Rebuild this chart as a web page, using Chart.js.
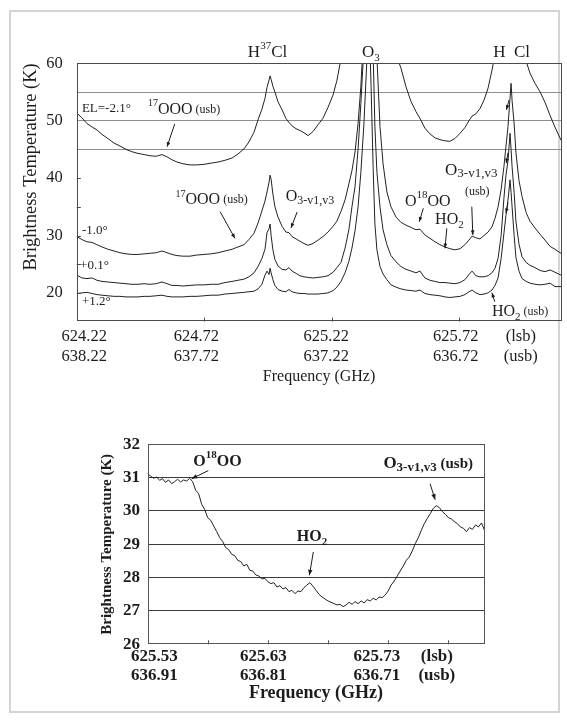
<!DOCTYPE html>
<html>
<head>
<meta charset="utf-8">
<script src="https://cdn.jsdelivr.net/npm/chart.js@4.4.1/dist/chart.umd.min.js"></script>
<style>
  html, body { margin: 0; padding: 0; background: #fff; }
  body { width: 567px; height: 721px; position: relative; overflow: hidden; }
  #frame { position: absolute; left: 9px; top: 10px; width: 551px; height: 703px; border: 2px solid #d4d4d4; box-sizing: border-box; }
  .wrap { position: absolute; left: 0; width: 567px; }
  #topWrap { top: 0; height: 400px; }
  #bottomWrap { top: 400px; height: 321px; }
</style>
</head>
<body>
<div id="frame"></div>
<div class="wrap" id="topWrap"><canvas id="spectraChart"></canvas></div>
<div class="wrap" id="bottomWrap"><canvas id="zoomChart"></canvas></div>
<script>
// ---- upper panel: four elevation scans (lsb frequency, GHz) ----
const freqTopGHz = [
  624.221, 624.240, 624.260, 624.280, 624.299, 624.319, 624.342, 624.366, 624.389, 624.413,
  624.436, 624.460, 624.484, 624.507, 624.531, 624.554, 624.574, 624.593, 624.613, 624.636,
  624.664, 624.691, 624.719, 624.746, 624.774, 624.801, 624.829, 624.852, 624.876, 624.895,
  624.915, 624.931, 624.946, 624.958, 624.966, 624.974, 624.978, 624.982, 624.989, 624.997,
  625.009, 625.025, 625.040, 625.052, 625.064, 625.080, 625.095, 625.111, 625.127, 625.146,
  625.166, 625.185, 625.205, 625.225, 625.240, 625.256, 625.272, 625.287, 625.299, 625.311,
  625.323, 625.334, 625.346, 625.358, 625.366, 625.374, 625.382, 625.389, 625.397, 625.409,
  625.421, 625.436, 625.452, 625.472, 625.491, 625.511, 625.531, 625.550, 625.566, 625.585,
  625.605, 625.625, 625.644, 625.664, 625.683, 625.703, 625.723, 625.742, 625.758, 625.770,
  625.785, 625.801, 625.817, 625.833, 625.848, 625.860, 625.872, 625.884, 625.895, 625.903,
  625.911, 625.919, 625.923, 625.927, 625.935, 625.942, 625.954, 625.966, 625.982, 625.997,
  626.017, 626.037, 626.056, 626.076, 626.095, 626.119
];

const tempElM21 = [
  51.3, 50.5, 49.5, 48.9, 48.4, 47.6, 46.9, 46.1, 45.6, 45.0,
  44.6, 44.3, 44.1, 43.9, 43.8, 44.1, 43.7, 43.2, 42.8, 42.5,
  42.3, 42.3, 42.4, 42.6, 42.8, 43.1, 43.5, 44.2, 45.1, 46.3,
  48.0, 50.2, 52.0, 53.9, 55.8, 57.1, 57.8, 57.2, 56.0, 55.0,
  53.3, 51.9, 50.4, 49.7, 49.1, 48.6, 48.3, 47.9, 47.4, 48.1,
  49.3, 50.4, 52.3, 54.5, 57.0, 60.8, 64, 68, 72, 77,
  83, 90, 97, 100, 100, 100, 100, 98, 95, 88,
  80, 72, 66, 61.5, 59.2, 55.9, 53.3, 51.6, 50.4, 48.7,
  47.7, 47.0, 46.7, 46.5, 46.4, 46.9, 47.8, 48.8, 50.0, 50.8,
  51.2, 52.1, 53.6, 55.7, 58.8, 61.5, 65, 70, 76, 82,
  88, 92, 93, 92, 89, 84, 76, 68, 60.4, 58.3,
  56.5, 55.0, 53.2, 50.9, 48.9, 46.6
];

const tempElM10 = [
  29.8, 29.3, 28.9, 28.8, 28.4, 28.0, 27.6, 27.3, 27.0, 26.8,
  26.7, 26.7, 26.8, 26.9, 27.0, 27.3, 27.0, 26.7, 26.5, 26.4,
  26.4, 26.6, 26.7, 26.8, 27.0, 27.3, 27.6, 28.0, 28.4, 29.3,
  30.4, 32.2, 34.3, 36.0, 37.6, 39.3, 40.5, 39.8, 37.2, 35.0,
  33.2, 31.6, 30.6, 30.5, 29.8, 29.4, 29.0, 28.6, 28.3, 28.6,
  29.2, 29.8, 30.6, 31.6, 32.5, 34.2, 36.2, 39.0, 41.3, 44.5,
  49.5, 56.0, 66, 74, 80, 85, 84, 70, 61, 49.0,
  42.5, 37.6, 35.0, 33.2, 32.3, 31.8, 31.4, 31.0, 31.1, 30.1,
  29.5, 28.9, 28.4, 28.0, 27.7, 27.5, 27.7, 28.4, 29.2, 29.9,
  29.6, 29.4, 30.0, 30.6, 31.5, 33.0, 35.0, 38.0, 42.0, 45.5,
  49.0, 54.0, 56.5, 53.5, 49.5, 44.5, 39.6, 36.8, 34.0, 32.5,
  31.3, 30.2, 29.2, 28.1, 27.6, 26.9
];

const tempElP01 = [
  23.1, 22.6, 22.5, 22.6, 22.2, 22.0, 21.9, 21.8, 21.7, 21.6,
  21.5, 21.5, 21.6, 21.5, 21.6, 21.9, 21.6, 21.3, 21.3, 21.2,
  21.3, 21.4, 21.4, 21.5, 21.5, 21.8, 22.0, 22.2, 22.4, 22.8,
  23.5, 24.6, 26.0, 27.6, 30.5, 31.2, 32.0, 30.0, 27.5, 25.8,
  24.7, 24.1, 24.0, 24.4, 23.8, 23.4, 23.0, 22.8, 22.7, 22.6,
  22.7, 22.8, 23.0, 23.6, 24.4, 25.3, 27.8, 31.0, 35.0, 38.5,
  45.0, 53.0, 63, 72, 78, 75, 62, 49, 41, 35.0,
  31.0, 28.4, 26.5, 25.4, 24.6, 24.1, 23.8, 23.5, 23.8, 22.6,
  22.2, 22.0, 21.8, 21.8, 21.7, 21.6, 21.8, 22.3, 23.2, 23.8,
  23.0, 22.8, 22.8, 23.0, 23.5, 24.3, 26.0, 30.0, 36.5, 40.5,
  43.0, 47.8, 45.0, 42.0, 37.5, 32.5, 28.5, 26.3, 25.3, 24.8,
  24.4, 23.9, 23.7, 24.0, 23.6, 23.1
];

const tempElP12 = [
  19.9, 20.0, 20.1, 19.9, 19.7, 19.6, 19.5, 19.4, 19.4, 19.3,
  19.3, 19.3, 19.4, 19.4, 19.5, 19.6, 19.4, 19.3, 19.3, 19.3,
  19.4, 19.4, 19.5, 19.6, 19.6, 19.8, 19.9, 20.0, 20.1, 20.2,
  20.3, 20.7, 21.5, 23.1, 23.8, 23.2, 24.3, 23.5, 22.3, 21.3,
  20.6, 20.3, 20.2, 20.6, 20.2, 20.0, 19.9, 19.9, 19.8, 19.8,
  19.8, 19.9, 20.0, 20.4, 21.0, 22.0, 23.5, 25.5, 27.8, 30.8,
  35.0, 41.0, 49.5, 61, 68, 56, 42, 32, 27.5, 24.6,
  23.3, 22.3, 21.4, 21.0, 20.7, 20.5, 20.4, 20.3, 20.5, 19.9,
  19.7, 19.6, 19.5, 19.3, 19.2, 19.3, 19.4, 19.7, 20.2, 20.5,
  20.0, 19.7, 19.8, 20.0, 20.5, 21.3, 22.6, 26.0, 30.4, 33.5,
  36.2, 39.7, 37.5, 35.0, 30.0, 26.2, 23.8, 22.5, 22.0, 21.7,
  21.5, 21.4, 21.5, 21.7, 21.1, 21.1
];

const topLabelPosGHz = [624.249, 624.689, 625.198, 625.706, 625.961];
const topLsbLabels = ['624.22', '624.72', '625.22', '625.72', '(lsb)'];
const topUsbLabels = ['638.22', '637.72', '637.22', '636.72', '(usb)'];
const topXMarksGHz = [624.72, 625.22, 625.72];
const topYTicks = [15, 20, 25, 30, 35, 40, 45, 50, 55, 60];
const topGridK = [45, 50, 55];

// ---- lower panel: zoom on the -1.0 deg scan ----
const zoomStartGHz = 625.53;
const zoomStepGHz = 0.0025;
const tempZoomK = [
  31.12, 31.05, 30.98, 31.02, 30.92, 30.97, 30.86, 30.93, 30.82, 30.88,
  30.95, 30.87, 30.93, 30.90, 30.98, 30.88, 30.62, 30.52, 30.20, 30.05,
  29.80, 29.72, 29.55, 29.38, 29.20, 29.08, 28.90, 28.84, 28.70, 28.66,
  28.52, 28.48, 28.35, 28.40, 28.22, 28.20, 28.08, 28.05, 27.96, 27.98,
  27.88, 27.82, 27.85, 27.72, 27.76, 27.66, 27.70, 27.58, 27.62, 27.52,
  27.60, 27.58, 27.70, 27.78, 27.85, 27.74, 27.62, 27.50, 27.42, 27.36,
  27.30, 27.26, 27.22, 27.18, 27.20, 27.13, 27.18, 27.26, 27.20, 27.28,
  27.22, 27.30, 27.24, 27.34, 27.30, 27.38, 27.33, 27.42, 27.40, 27.48,
  27.60, 27.78, 27.90, 28.05, 28.20, 28.35, 28.52, 28.62, 28.80, 29.02,
  29.20, 29.42, 29.62, 29.78, 29.92, 30.08, 30.16, 30.10, 29.98, 29.90,
  29.80, 29.76, 29.68, 29.62, 29.52, 29.48, 29.38, 29.50, 29.45, 29.58,
  29.52, 29.64, 29.42
];

const zoomLabelPosGHz = [625.5357, 625.6263, 625.7205, 625.7704];
const zoomLsbLabels = ['625.53', '625.63', '625.73', '(lsb)'];
const zoomUsbLabels = ['636.91', '636.81', '636.71', '(usb)'];
const zoomXMarksGHz = [625.58, 625.63, 625.68, 625.73, 625.78];
const zoomYTicks = [26, 27, 28, 29, 30, 31, 32];
const zoomGridK = [27, 28, 29, 30, 31];

// annotations: [freq, K, align, parts[[text, px, rise]]]
const topNotes = [
  [624.968, 61.8, 'center', [['H', 17, 0], ['37', 11, 7], ['Cl', 17, 0]]],
  [625.373, 61.8, 'center', [['O', 17, 0], ['3', 11, -5]]],
  [625.925, 61.8, 'center', [['H  Cl', 17, 0]]],
  [624.240, 52.1, 'left', [['EL=-2.1°', 13, 0]]],
  [624.240, 30.8, 'left', [['-1.0°', 13, 0]]],
  [624.233, 24.7, 'left', [['+0.1°', 13, 0]]],
  [624.240, 18.5, 'left', [['+1.2°', 13, 0]]],
  [624.499, 51.9, 'left', [['17', 10, 6], ['OOO', 16, 0], [' (usb)', 12, 0]]],
  [624.607, 36.2, 'left', [['17', 10, 6], ['OOO', 16, 0], [' (usb)', 12, 0]]],
  [625.039, 36.7, 'left', [['O', 16, 0], ['3-v1,v3', 12, -4]]],
  [625.507, 35.9, 'left', [['O', 16, 0], ['18', 11, 7], ['OO', 16, 0]]],
  [625.625, 32.7, 'left', [['HO', 16, 0], ['2', 11, -5]]],
  [625.664, 41.4, 'left', [['O', 17, 0], ['3-v1,v3', 13, -4]]],
  [625.742, 37.6, 'left', [['(usb)', 12, 0]]],
  [625.848, 16.7, 'left', [['HO', 16, 0], ['2', 11, -5], [' (usb)', 12, 0]]]
];
const topArrows = [
  [624.604, 49.43, 624.574, 45.47],
  [624.782, 34.15, 624.840, 29.51],
  [625.084, 34.09, 625.060, 31.31],
  [625.579, 34.74, 625.563, 32.40],
  [625.671, 31.25, 625.664, 27.77],
  [625.769, 35.02, 625.773, 30.09],
  [625.859, 18.47, 625.848, 20.03],
  [625.915, 53.6, 625.905, 51.9],
  [625.911, 44.4, 625.904, 42.6],
  [625.911, 35.7, 625.903, 33.9]
];
const zoomNotes = [
  [625.5681, 31.46, 'left', [['O', 16, 0], ['18', 11, 7], ['OO', 16, 0]]],
  [625.654, 29.22, 'left', [['HO', 16, 0], ['2', 11, -5]]],
  [625.726, 31.41, 'left', [['O', 17, 0], ['3-v1,v3', 13, -4], [' (usb)', 15, 0]]]
];
const zoomArrows = [
  [625.5805, 31.21, 625.5667, 30.966],
  [625.6678, 28.77, 625.6645, 28.07],
  [625.7648, 30.816, 625.7690, 30.337]
];

const SERIF = '"Liberation Serif", "Times New Roman", serif';
const INK = '#1c1c1c';

// rich text: main text, super- and subscripts
function drawParts(ctx, x, y, align, parts, weight) {
  ctx.save();
  ctx.fillStyle = INK;
  ctx.textBaseline = 'middle';
  ctx.textAlign = 'left';
  let total = 0;
  parts.forEach(p => {
    ctx.font = weight + ' ' + p[1] + 'px ' + SERIF;
    total += ctx.measureText(p[0]).width;
  });
  let cx = align === 'center' ? x - total / 2 : x;
  parts.forEach(p => {
    ctx.font = weight + ' ' + p[1] + 'px ' + SERIF;
    ctx.fillText(p[0], cx, y - p[2]);
    cx += ctx.measureText(p[0]).width;
  });
  ctx.restore();
}

function drawArrow(ctx, x1, y1, x2, y2, head) {
  const a = Math.atan2(y2 - y1, x2 - x1);
  ctx.beginPath();
  ctx.moveTo(x1, y1);
  ctx.lineTo(x2, y2);
  ctx.stroke();
  ctx.beginPath();
  ctx.moveTo(x2, y2);
  ctx.lineTo(x2 - head * Math.cos(a - 0.38), y2 - head * Math.sin(a - 0.38));
  ctx.lineTo(x2 - head * Math.cos(a + 0.38), y2 - head * Math.sin(a + 0.38));
  ctx.closePath();
  ctx.fill();
}

// box around the plot, inward tick marks, labels and arrows
function makeDecor(cfg) {
  return {
    id: 'decor',
    afterDraw(chart) {
      const { ctx, chartArea: a, scales: { x, y } } = chart;
      ctx.save();
      ctx.strokeStyle = cfg.boxColor;
      ctx.lineWidth = 1;
      ctx.strokeRect(Math.round(a.left) + 0.5, Math.round(a.top) + 0.5,
        Math.round(a.width) - 1, Math.round(a.height) - 1);
      ctx.beginPath();
      cfg.xMarks.forEach(v => {
        const px = Math.round(x.getPixelForValue(v)) + 0.5;
        ctx.moveTo(px, a.bottom);
        ctx.lineTo(px, a.bottom - cfg.markLen);
      });
      cfg.yMarks.forEach(v => {
        const py = Math.round(y.getPixelForValue(v)) + 0.5;
        ctx.moveTo(a.left, py);
        ctx.lineTo(a.left + cfg.markLen, py);
      });
      ctx.stroke();

      cfg.notes.forEach(n => {
        drawParts(ctx, x.getPixelForValue(n[0]), y.getPixelForValue(n[1]), n[2], n[3], cfg.weight);
      });
      ctx.strokeStyle = INK;
      ctx.fillStyle = INK;
      ctx.lineWidth = 1;
      cfg.arrows.forEach(r => {
        drawArrow(ctx, x.getPixelForValue(r[0]), y.getPixelForValue(r[1]),
          x.getPixelForValue(r[2]), y.getPixelForValue(r[3]), cfg.head);
      });
      ctx.restore();
    }
  };
}

function lineSet(label, xs, ys) {
  return {
    label: label,
    data: xs.map((f, i) => ({ x: f, y: ys[i] })),
    borderColor: '#222',
    borderWidth: 1,
    pointRadius: 0,
    tension: 0,
    fill: false
  };
}

document.addEventListener('DOMContentLoaded', function() {
  initSpectraChart();
  initZoomChart();
});

function initSpectraChart() {
  const ctx = document.getElementById('spectraChart');
  new Chart(ctx, {
    type: 'line',
    data: {
      datasets: [
        lineSet('EL=-2.1°', freqTopGHz, tempElM21),
        lineSet('-1.0°', freqTopGHz, tempElM10),
        lineSet('+0.1°', freqTopGHz, tempElP01),
        lineSet('+1.2°', freqTopGHz, tempElP12)
      ]
    },
    options: {
      responsive: true,
      maintainAspectRatio: false,
      animation: false,
      layout: { padding: { left: 10, right: 5.7, top: 63.3, bottom: 10 } },
      plugins: { legend: { display: false }, tooltip: { enabled: false } },
      scales: {
        x: {
          type: 'linear',
          min: 624.22,
          max: 626.12,
          afterBuildTicks: axis => { axis.ticks = topLabelPosGHz.map(v => ({ value: v })); },
          afterFit: axis => { axis.height = 68.4; },
          grid: { display: false, drawTicks: false },
          border: { display: false },
          ticks: {
            autoSkip: false, maxRotation: 0, minRotation: 0, padding: 5.2, color: INK,
            font: { family: SERIF, size: 16.5, lineHeight: 1.2 },
            callback: (v, i) => [topLsbLabels[i], topUsbLabels[i]]
          },
          title: {
            display: true, text: 'Frequency (GHz)', color: INK,
            font: { family: SERIF, size: 16 }, padding: { top: 0, bottom: 3.4 }
          }
        },
        y: {
          min: 15,
          max: 60,
          afterBuildTicks: axis => { axis.ticks = topYTicks.map(v => ({ value: v })); },
          afterFit: axis => { axis.width = 66.8; },
          grid: {
            drawTicks: false,
            lineWidth: 1,
            color: c => (c.tick && topGridK.includes(c.tick.value)) ? '#8e8e8e' : 'rgba(0,0,0,0)'
          },
          border: { display: false },
          ticks: {
            padding: 14, color: INK,
            font: { family: SERIF, size: 16.5 },
            callback: v => (v % 10 === 0 && v >= 20) ? String(v) : ''
          },
          title: {
            display: true, text: 'Brightness Temperature (K)', color: INK, align: 'end',
            font: { family: SERIF, size: 18.5 }, padding: { top: 9.7, bottom: 0 }
          }
        }
      }
    },
    plugins: [makeDecor({
      boxColor: '#4a4a4a', xMarks: topXMarksGHz, yMarks: [20, 25, 30, 35, 40],
      markLen: 4, notes: topNotes, arrows: topArrows, weight: 'normal', head: 5
    })]
  });
}

function initZoomChart() {
  const ctx = document.getElementById('zoomChart');
  const zoomFreqGHz = tempZoomK.map((t, i) => +(zoomStartGHz + i * zoomStepGHz).toFixed(4));
  new Chart(ctx, {
    type: 'line',
    data: { datasets: [lineSet('-1.0°', zoomFreqGHz, tempZoomK)] },
    options: {
      responsive: true,
      maintainAspectRatio: false,
      animation: false,
      layout: { padding: { left: 90, right: 82.5, top: 44.3, bottom: 10 } },
      plugins: { legend: { display: false }, tooltip: { enabled: false } },
      scales: {
        x: {
          type: 'linear',
          min: 625.53,
          max: 625.81,
          afterBuildTicks: axis => { axis.ticks = zoomLabelPosGHz.map(v => ({ value: v })); },
          afterFit: axis => { axis.height = 66.7; },
          grid: { display: false, drawTicks: false },
          border: { display: false },
          ticks: {
            autoSkip: false, maxRotation: 0, minRotation: 0, padding: 3, color: INK,
            font: { family: SERIF, size: 17, weight: 'bold', lineHeight: 1.1 },
            callback: (v, i) => [zoomLsbLabels[i], zoomUsbLabels[i]]
          },
          title: {
            display: true, text: 'Frequency (GHz)', color: INK,
            font: { family: SERIF, size: 18, weight: 'bold' }, padding: { top: 0, bottom: 6.9 }
          }
        },
        y: {
          min: 26,
          max: 32,
          afterBuildTicks: axis => { axis.ticks = zoomYTicks.map(v => ({ value: v })); },
          afterFit: axis => { axis.width = 57.5; },
          grid: {
            drawTicks: false,
            lineWidth: 1,
            color: c => (c.tick && zoomGridK.includes(c.tick.value)) ? '#3a3a3a' : 'rgba(0,0,0,0)'
          },
          border: { display: false },
          ticks: {
            padding: 7.5, color: INK,
            font: { family: SERIF, size: 17, weight: 'bold' }
          },
          title: {
            display: true, text: 'Brightness Temperature (K)', color: INK,
            font: { family: SERIF, size: 15, weight: 'bold' }, padding: { top: 8.5, bottom: 0 }
          }
        }
      }
    },
    plugins: [makeDecor({
      boxColor: '#555', xMarks: zoomXMarksGHz, yMarks: [],
      markLen: 4, notes: zoomNotes, arrows: zoomArrows, weight: 'bold', head: 6
    })]
  });
}
</script>
</body>
</html>
